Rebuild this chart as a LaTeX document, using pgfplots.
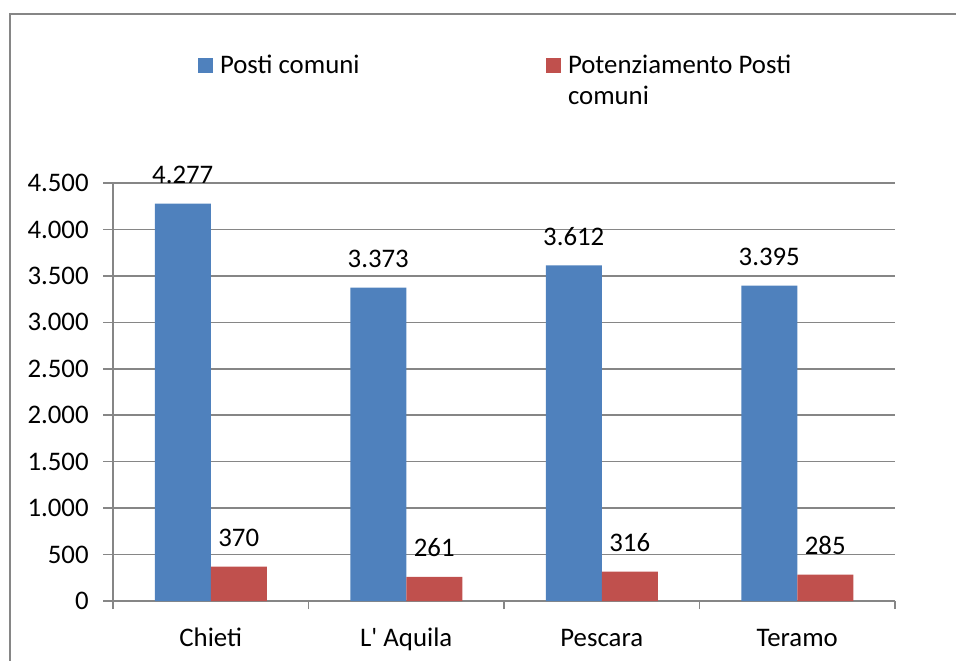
\documentclass[border=0pt]{standalone}
\usepackage{fontspec}
\setmainfont{Carlito}
\usepackage{pgfplots}
\pgfplotsset{compat=1.18}
\definecolor{pblue}{HTML}{4F81BD}
\definecolor{pred}{HTML}{C0504D}
\definecolor{gridgray}{HTML}{868686}
\begin{document}
\begin{tikzpicture}[font=\fontsize{13.4pt}{16pt}\selectfont]
\useasboundingbox (0,0) rectangle (478pt,330pt);
\draw[gridgray, line width=0.8pt] (5pt,-2pt) -- (5pt,323pt) -- (480pt,323pt);
\begin{axis}[
  at={(56.5pt,29.5pt)}, anchor=south west,
  scale only axis, width=391pt, height=209pt,
  ybar=0pt, bar width=28pt,
  xmin=-0.5, xmax=3.5, ymin=0, ymax=4500,
  xtick={0,1,2,3},
  xticklabels={Chieti, L\textquotesingle{} Aquila, Pescara, Teramo},
  minor xtick={-0.5,0.5,1.5,2.5,3.5},
  ytick={0,500,...,4500},
  axis x line*=bottom, axis y line*=left,
  axis line style={gridgray, line width=0.8pt, -},
  tick align=outside,
  major tick length=5pt, minor tick length=4pt,
  x tick style={draw=none},
  minor x tick style={draw=gridgray, line width=0.8pt},
  y tick style={gridgray, line width=0.8pt},
  ymajorgrids, grid style={gridgray, line width=0.8pt},
  /pgf/number format/.cd, assume math mode=true, 1000 sep={.}, /pgfplots/.cd,
  yticklabel style={anchor=east, inner sep=0pt, xshift=-7pt},
  xticklabel style={anchor=base, inner sep=0pt, yshift=-17.5pt},
  scaled y ticks=false,
  nodes near coords,
  every node near coord/.append style={anchor=base, inner sep=0pt, yshift=10pt, black},
  legend columns=2,
  legend cell align=left,
  legend style={draw=none, fill=none, inner sep=0pt, outer sep=0pt,
    at={(axis description cs:0.1087,1.3062)}, anchor=north west,
    nodes={inner sep=0pt, outer sep=0pt, anchor=base west},
    /tikz/every odd column/.append style={column sep=3.5pt}},
  legend image code/.code={\fill[#1] (0pt,0.5pt) rectangle (7.5pt,8pt);},
]
\addplot[fill=pblue, draw=none] coordinates {(0,4277) (1,3373) (2,3612) (3,3395)};
\addlegendentry{\makebox[163pt][l]{Posti comuni}}
\addplot[fill=pred, draw=none] coordinates {(0,370) (1,261) (2,316) (3,285)};
\addlegendentry{\parbox[t]{130pt}{\baselineskip=15.5pt Potenziamento Posti\\comuni}}
\end{axis}
\end{tikzpicture}
\end{document}
